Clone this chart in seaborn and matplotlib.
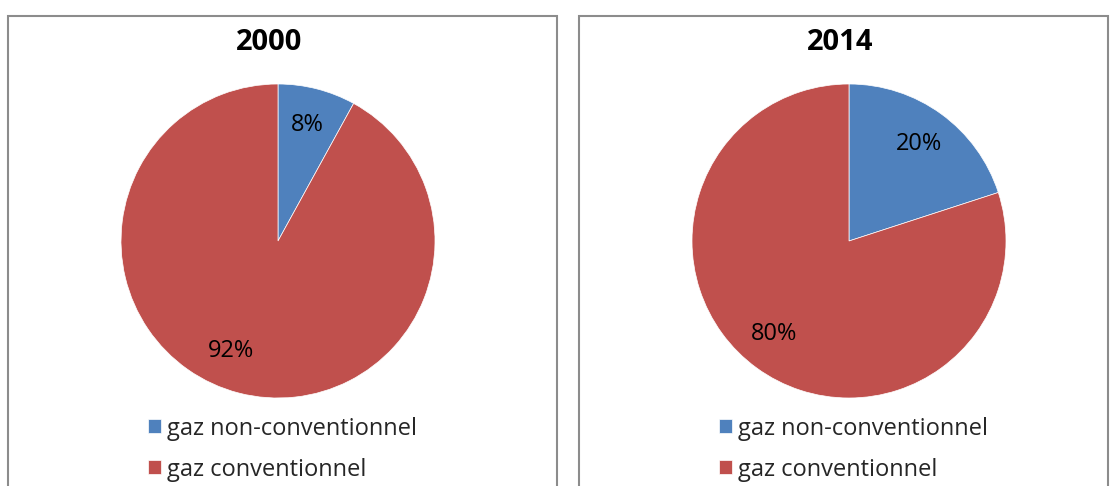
import matplotlib
matplotlib.use("Agg")
import matplotlib.pyplot as plt
from matplotlib.patches import Rectangle
import seaborn as sns
import numpy as np

# ---- data ----
years = ["2000", "2014"]
categories = ["gaz non-conventionnel", "gaz conventionnel"]
share_2000 = [8, 92]
share_2014 = [20, 80]

sns.set_theme(style="white")
plt.rcParams['font.family'] = ['Open Sans', 'DejaVu Sans']

palette = sns.color_palette(["#4F81BD", "#C0504D"])

W, H = 1115, 486
fig = plt.figure(figsize=(W / 100, H / 100), dpi=100)
fig.patch.set_facecolor("white")

def fx(px):
    return px / W

def fy(py):
    return 1 - py / H

panels = [
    dict(year=years[0], vals=share_2000, box=(8, 16, 557, 600), cx=278, cy=241, tx=269,
         big_label_angle=247),
    dict(year=years[1], vals=share_2014, box=(579, 16, 1108, 600), cx=849, cy=241, tx=840,
         big_label_angle=231),
]
R = 157

for p in panels:
    x0, y0, x1, y1 = p["box"]
    fig.add_artist(Rectangle((fx(x0), fy(y1)), fx(x1 - x0), (y1 - y0) / H,
                             transform=fig.transFigure, fill=False,
                             edgecolor="#8c8c8c", linewidth=1.5))
    ax = fig.add_axes([fx(p["cx"] - R), fy(p["cy"] + R), fx(2 * R), 2 * R / H])
    wedges, texts, autotexts = ax.pie(
        p["vals"], colors=palette, startangle=90, counterclock=False,
        autopct=lambda v: f"{v:.0f}%", pctdistance=0.76,
        wedgeprops=dict(linewidth=0.5, edgecolor="white"),
        textprops=dict(fontsize=17, color="black"))
    # best-fit style placement of the large-slice label
    a = np.deg2rad(p["big_label_angle"])
    autotexts[1].set_position((0.76 * np.cos(a), 0.76 * np.sin(a)))
    ax.set_xlim(-1, 1)
    ax.set_ylim(-1, 1)
    ax.set_aspect("equal")
    ax.axis("off")
    fig.text(fx(p["tx"]), fy(43), p["year"], ha="center", va="center",
             fontsize=21, fontweight="bold", color="black")
    lx = p["cx"] - 130
    fig.legend(wedges, categories, loc="center left",
               bbox_to_anchor=(fx(lx), fy(449)), bbox_transform=fig.transFigure,
               frameon=False, fontsize=17, handlelength=0.55, handleheight=0.55,
               handletextpad=0.25, labelspacing=0.72, borderpad=0, borderaxespad=0)

fig.savefig("out.png", dpi=100, facecolor="white")
